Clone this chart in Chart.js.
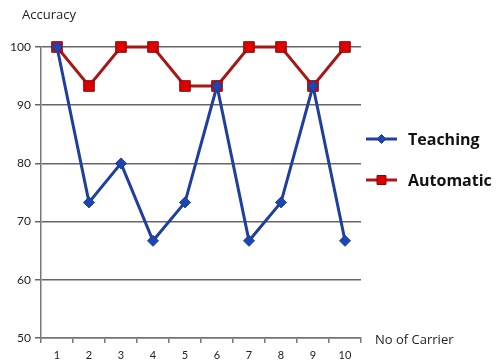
<!DOCTYPE html>
<html>
<head>
<meta charset="utf-8">
<script src="https://cdn.jsdelivr.net/npm/chart.js@4/dist/chart.umd.min.js"></script>
<style>
  html, body { margin: 0; padding: 0; background: #fff; }
  #wrap { width: 504px; height: 362px; }
</style>
</head>
<body>
<div id="wrap"><canvas id="c" width="504" height="362"></canvas></div>
<script>
const carriers = ['1', '2', '3', '4', '5', '6', '7', '8', '9', '10'];
const teaching = [100, 73.3, 80, 66.7, 73.3, 93.3, 66.7, 73.3, 93.3, 66.7];
const automatic = [100, 93.3, 100, 100, 93.3, 93.3, 100, 100, 93.3, 100];
const yTitle = 'Accuracy';
const xTitle = 'No of Carrier';

const FONT = 'Lato, "Open Sans", sans-serif';
const TEXT_FONT = '"Open Sans", Lato, sans-serif';

// Axis captions and a line-with-marker legend on the right side
const extras = {
  id: 'extras',
  afterDraw(chart) {
    const ctx = chart.ctx;
    const area = chart.chartArea;
    ctx.save();
    ctx.fillStyle = '#222';
    ctx.font = '13px ' + TEXT_FONT;
    ctx.textBaseline = 'middle';
    ctx.textAlign = 'left';
    ctx.fillText(yTitle, 22, 15);
    ctx.fillText(xTitle, area.right + 14, area.bottom + 2);

    chart.data.datasets.forEach((ds, i) => {
      const y = 139 + i * 41;
      const x0 = 366, x1 = 397;
      const cx = (x0 + x1) / 2;
      ctx.strokeStyle = ds.borderColor;
      ctx.lineWidth = 3;
      ctx.beginPath();
      ctx.moveTo(x0, y);
      ctx.lineTo(x1, y);
      ctx.stroke();
      ctx.fillStyle = ds.pointBackgroundColor;
      ctx.strokeStyle = ds.pointBorderColor;
      ctx.lineWidth = 1;
      ctx.beginPath();
      const r = 4.5;
      if (ds.pointStyle === 'rect') {
        ctx.rect(cx - r, y - r, 2 * r, 2 * r);
      } else {
        ctx.moveTo(cx, y - r);
        ctx.lineTo(cx + r, y);
        ctx.lineTo(cx, y + r);
        ctx.lineTo(cx - r, y);
        ctx.closePath();
      }
      ctx.fill();
      ctx.stroke();
      ctx.fillStyle = '#111';
      ctx.font = 'bold 16px ' + TEXT_FONT;
      ctx.textAlign = 'left';
      ctx.fillText(ds.label, 408, y + 1);
    });
    ctx.restore();
  }
};

new Chart(document.getElementById('c'), {
  type: 'line',
  data: {
    labels: carriers,
    datasets: [
      {
        label: 'Teaching',
        data: teaching,
        borderColor: '#1f3f9f',
        borderWidth: 3,
        pointStyle: 'rectRot',
        pointRadius: 5.5,
        pointBackgroundColor: '#1f45b0',
        pointBorderColor: '#1a3a95',
        pointBorderWidth: 1,
        tension: 0,
        clip: false
      },
      {
        label: 'Automatic',
        data: automatic,
        borderColor: '#a81616',
        borderWidth: 3,
        pointStyle: 'rect',
        pointRadius: 7.5,
        pointBackgroundColor: '#dd0000',
        pointBorderColor: '#8a0a0a',
        pointBorderWidth: 1,
        tension: 0,
        clip: false
      }
    ]
  },
  options: {
    responsive: false,
    animation: false,
    devicePixelRatio: 1,
    layout: { padding: { left: 0, top: 47, right: 143, bottom: 0 } },
    plugins: {
      legend: { display: false },
      tooltip: { enabled: false }
    },
    scales: {
      x: {
        offset: true,
        afterFit(scale) { scale.height = 24; },
        grid: {
          offset: true,
          drawOnChartArea: false,
          drawTicks: true,
          tickLength: 5,
          color: '#777',
          lineWidth: 1.5
        },
        border: { color: '#777', width: 1.5 },
        ticks: {
          color: '#222',
          font: { family: FONT, size: 11 },
          padding: 6,
          maxRotation: 0
        }
      },
      y: {
        min: 50,
        max: 100,
        afterFit(scale) { scale.width = 41; },
        ticks: {
          stepSize: 10,
          color: '#222',
          font: { family: FONT, size: 12 },
          padding: 4
        },
        grid: {
          color: '#666',
          lineWidth: 1.5,
          tickLength: 6,
          drawTicks: true
        },
        border: { color: '#777', width: 1.5 }
      }
    }
  },
  plugins: [extras]
});
</script>
</body>
</html>
